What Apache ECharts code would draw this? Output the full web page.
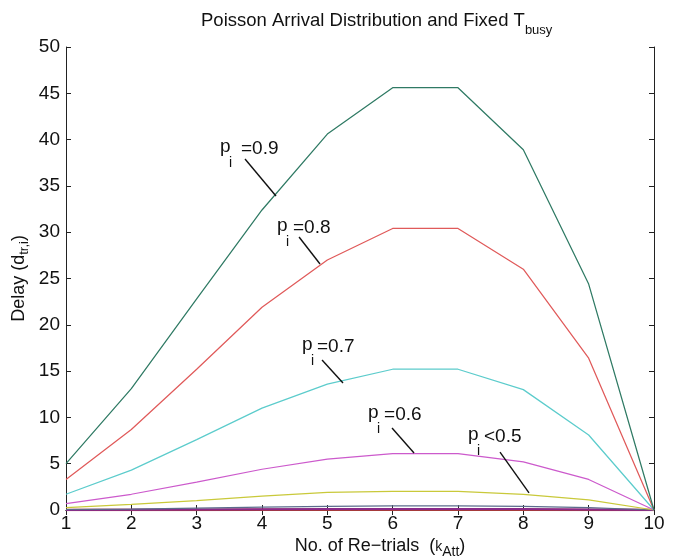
<!DOCTYPE html>
<html>
<head>
<meta charset="utf-8">
<script src="https://cdn.jsdelivr.net/npm/echarts@6/dist/echarts.min.js"></script>
<style>
  html, body { margin: 0; padding: 0; background: #fff; }
  #chart { width: 677px; height: 559px; }
</style>
</head>
<body>
<div id="chart"></div>
<script>
// Number of re-trials on the x axis
const retrials = [1, 2, 3, 4, 5, 6, 7, 8, 9, 10];

// Delay per re-trial for each arrival probability p_i
const delayP09 = [5.0, 13.1, 22.8, 32.4, 40.6, 45.6, 45.6, 38.9, 24.4, 0];
const delayP08 = [3.3, 8.7, 15.2, 21.9, 27.0, 30.4, 30.4, 26.0, 16.4, 0];
const delayP07 = [1.7, 4.3, 7.6, 11.0, 13.6, 15.2, 15.2, 13.0, 8.1, 0];
const delayP06 = [0.7, 1.7, 3.0, 4.4, 5.5, 6.1, 6.1, 5.2, 3.3, 0];
const delayP05 = [0.25, 0.6, 1.0, 1.5, 1.9, 2.0, 2.0, 1.7, 1.1, 0];
const delayP04 = [0.05, 0.1, 0.2, 0.3, 0.4, 0.45, 0.45, 0.4, 0.25, 0];
const delayP03 = [0.01, 0.03, 0.05, 0.08, 0.1, 0.12, 0.12, 0.1, 0.06, 0];
const delayP02 = [0, 0.01, 0.01, 0.02, 0.02, 0.02, 0.02, 0.02, 0.01, 0];

const yTicks = [0, 5, 10, 15, 20, 25, 30, 35, 40, 45, 50];

// Callout labels: text anchor (left of "p", text middle) and leader line, in data units
const callouts = [
  { val: '=0.9', gap: 21, text: [3.357, 38.98], from: [3.74, 37.9], to: [4.214, 33.91] },
  { val: '=0.8', gap: 16, text: [4.23, 30.45], from: [4.567, 29.48], to: [4.888, 26.57] },
  { val: '=0.7', gap: 15, text: [4.612, 17.6], from: [4.919, 16.2], to: [5.24, 13.71] },
  { val: '=0.6', gap: 16, text: [5.623, 10.26], from: [5.99, 8.86], to: [6.327, 6.16] },
  { val: '<0.5', gap: 16, text: [7.153, 7.88], from: [7.643, 6.26], to: [8.087, 1.84] }
];

const FONT = 'Liberation Sans, Arial, sans-serif';
const INK = '#111';
const chart = echarts.init(document.getElementById('chart'), null, { renderer: 'canvas' });

function pair(xs, ys) { return xs.map((x, i) => [x, ys[i]]); }

function line(data, color, width) {
  return {
    type: 'line', data: data, symbol: 'none', animation: false,
    lineStyle: { color: color, width: width || 1.25 }, z: 3
  };
}

const axisLineStyle = { color: '#222', width: 1 };

const option = {
  backgroundColor: '#fff',
  animation: false,
  title: {
    text: '{a|Poisson Arrival Distribution and Fixed T}{b|busy}',
    left: 201, top: 11,
    textStyle: {
      rich: {
        a: { fontFamily: FONT, fontSize: 18.5, fontWeight: 'normal', color: INK, lineHeight: 22, verticalAlign: 'top' },
        b: { fontFamily: FONT, fontSize: 13, fontWeight: 'normal', color: INK, padding: [13, 0, 0, 0], lineHeight: 22, verticalAlign: 'top' }
      }
    },
    padding: 0, itemGap: 0
  },
  grid: { left: 66, right: 23, top: 47, bottom: 49, outerBoundsMode: 'none', containLabel: false },
  xAxis: [{
    type: 'value', min: 1, max: 10, interval: 1,
    name: '{a|No. of Re\u2212trials  (}{k|k}{s|Att}{a|)}',
    nameLocation: 'middle', nameGap: 27, nameMoveOverlap: false,
    nameTextStyle: {
      padding: [0, 0, 0, 40],
      rich: {
        a: { fontFamily: FONT, fontSize: 18, color: INK, lineHeight: 22, verticalAlign: 'top' },
        k: { fontFamily: FONT, fontSize: 14, color: INK, lineHeight: 22, padding: [3, 0, 0, 0], verticalAlign: 'top' },
        s: { fontFamily: FONT, fontSize: 14, color: INK, lineHeight: 22, padding: [8, 0, 0, 0], verticalAlign: 'top' }
      }
    },
    axisLine: { lineStyle: axisLineStyle },
    axisTick: { inside: true, length: 5, lineStyle: axisLineStyle },
    axisLabel: { fontFamily: FONT, fontSize: 19, color: INK, margin: 4 },
    splitLine: { show: false }
  }, {
    type: 'value', min: 1, max: 10, interval: 1, position: 'top',
    axisLine: { lineStyle: axisLineStyle },
    axisTick: { inside: true, length: 5, lineStyle: axisLineStyle },
    axisLabel: { show: false }, splitLine: { show: false }
  }],
  yAxis: [{
    type: 'value', min: yTicks[0], max: yTicks[yTicks.length - 1], interval: 5,
    name: '{a|Delay (d}{s|tr,i}{a|)}',
    nameLocation: 'middle', nameGap: 34, nameRotate: 90, nameMoveOverlap: false,
    nameTextStyle: {
      rich: {
        a: { fontFamily: FONT, fontSize: 18, color: INK, lineHeight: 22, verticalAlign: 'top' },
        s: { fontFamily: FONT, fontSize: 13, color: INK, lineHeight: 22, padding: [8, 0, 0, 0], verticalAlign: 'top' }
      }
    },
    axisLine: { show: true, lineStyle: axisLineStyle },
    axisTick: { show: true, inside: true, length: 5, lineStyle: axisLineStyle },
    axisLabel: { fontFamily: FONT, fontSize: 19, color: INK, margin: 6 },
    splitLine: { show: false }
  }, {
    type: 'value', min: yTicks[0], max: yTicks[yTicks.length - 1], interval: 5, position: 'right',
    axisLine: { show: true, lineStyle: axisLineStyle },
    axisTick: { show: true, inside: true, length: 5, lineStyle: axisLineStyle },
    axisLabel: { show: false }, splitLine: { show: false }
  }],
  series: [
    line(pair(retrials, delayP02), '#a63a3a', 2.5),
    line(pair(retrials, delayP03), '#8a2a8a', 2),
    line(pair(retrials, delayP04), '#5c6c8c', 1.2),
    line(pair(retrials, delayP05), '#c9c93a'),
    line(pair(retrials, delayP06), '#cc5acc'),
    line(pair(retrials, delayP07), '#5ccccc'),
    line(pair(retrials, delayP08), '#e05a5a'),
    line(pair(retrials, delayP09), '#2f7a64')
  ]
};
chart.setOption(option);

// Callout text and leader lines, placed through the chart's coordinate system
const graphics = [];
callouts.forEach(c => {
  const t = chart.convertToPixel({ gridIndex: 0 }, c.text);
  const a = chart.convertToPixel({ gridIndex: 0 }, c.from);
  const b = chart.convertToPixel({ gridIndex: 0 }, c.to);
  graphics.push({
    type: 'text', x: t[0], y: t[1] - 2, z: 10,
    style: { text: 'p', font: '19px ' + FONT, fill: INK, textVerticalAlign: 'middle' }
  });
  graphics.push({
    type: 'text', x: t[0] + 9, y: t[1] + 14, z: 10,
    style: { text: 'i', font: '14px ' + FONT, fill: INK, textVerticalAlign: 'middle' }
  });
  graphics.push({
    type: 'text', x: t[0] + c.gap, y: t[1], z: 10,
    style: { text: c.val, font: '19px ' + FONT, fill: INK, textVerticalAlign: 'middle' }
  });
  graphics.push({
    type: 'line', z: 10,
    shape: { x1: a[0], y1: a[1], x2: b[0], y2: b[1] },
    style: { stroke: INK, lineWidth: 1.4 }
  });
});
chart.setOption({ graphic: graphics });
</script>
</body>
</html>
